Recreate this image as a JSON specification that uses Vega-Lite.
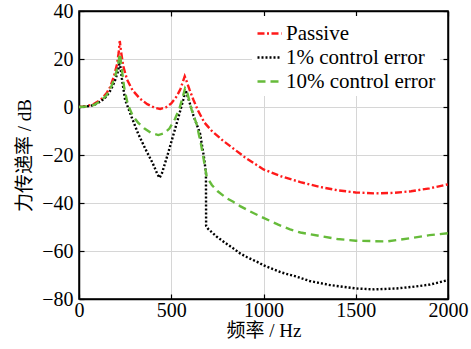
{
  "$schema": "https://vega.github.io/schema/vega-lite/v6.json",
  "autosize": {"type": "none"},
  "padding": {"left": 79, "top": 11, "right": 23, "bottom": 50},
  "width": 369,
  "height": 288,
  "background": "white",
  "config": {
    "view": {"stroke": "black", "strokeWidth": 1.5},
    "axis": {
      "domainColor": "black",
      "domainWidth": 1.5,
      "tickColor": "black",
      "tickSize": -5,
      "tickWidth": 1.2,
      "labelFont": "Liberation Serif",
      "labelFontSize": 20,
      "labelColor": "black",
      "gridColor": "#d6d6d6",
      "gridWidth": 1,
      "titleFont": "Liberation Serif, Noto Sans CJK SC",
      "titleFontSize": 19,
      "titleFontWeight": "normal",
      "titleColor": "black"
    },
    "legend": {
      "labelFont": "Liberation Serif",
      "labelFontSize": 21,
      "labelColor": "black",
      "labelLimit": 220
    }
  },
  "data": {
    "values": [
      {"f": 0, "db": 0, "s": "Passive"},
      {"f": 40, "db": 0.3, "s": "Passive"},
      {"f": 80, "db": 1.2, "s": "Passive"},
      {"f": 120, "db": 3.2, "s": "Passive"},
      {"f": 150, "db": 5.8, "s": "Passive"},
      {"f": 170, "db": 8.5, "s": "Passive"},
      {"f": 190, "db": 13, "s": "Passive"},
      {"f": 205, "db": 17.5, "s": "Passive"},
      {"f": 215, "db": 22.5, "s": "Passive"},
      {"f": 221, "db": 27.5, "s": "Passive"},
      {"f": 228, "db": 23, "s": "Passive"},
      {"f": 240, "db": 17, "s": "Passive"},
      {"f": 260, "db": 11.5, "s": "Passive"},
      {"f": 290, "db": 7, "s": "Passive"},
      {"f": 330, "db": 3.5, "s": "Passive"},
      {"f": 370, "db": 1.2, "s": "Passive"},
      {"f": 410, "db": -0.3, "s": "Passive"},
      {"f": 440, "db": -0.8, "s": "Passive"},
      {"f": 470, "db": -0.2, "s": "Passive"},
      {"f": 500, "db": 1.5, "s": "Passive"},
      {"f": 530, "db": 4.5, "s": "Passive"},
      {"f": 550, "db": 7.5, "s": "Passive"},
      {"f": 565, "db": 11, "s": "Passive"},
      {"f": 573, "db": 12.8, "s": "Passive"},
      {"f": 582, "db": 11, "s": "Passive"},
      {"f": 600, "db": 7, "s": "Passive"},
      {"f": 620, "db": 3, "s": "Passive"},
      {"f": 645, "db": -1.5, "s": "Passive"},
      {"f": 680, "db": -6.5, "s": "Passive"},
      {"f": 720, "db": -10, "s": "Passive"},
      {"f": 780, "db": -14, "s": "Passive"},
      {"f": 840, "db": -17.5, "s": "Passive"},
      {"f": 900, "db": -21, "s": "Passive"},
      {"f": 1000, "db": -26, "s": "Passive"},
      {"f": 1100, "db": -29, "s": "Passive"},
      {"f": 1200, "db": -31.3, "s": "Passive"},
      {"f": 1300, "db": -33.2, "s": "Passive"},
      {"f": 1400, "db": -34.7, "s": "Passive"},
      {"f": 1500, "db": -35.6, "s": "Passive"},
      {"f": 1600, "db": -36, "s": "Passive"},
      {"f": 1700, "db": -35.8, "s": "Passive"},
      {"f": 1800, "db": -35.1, "s": "Passive"},
      {"f": 1900, "db": -33.9, "s": "Passive"},
      {"f": 2000, "db": -32.2, "s": "Passive"},

      {"f": 0, "db": 0, "s": "1% control error"},
      {"f": 40, "db": 0.2, "s": "1% control error"},
      {"f": 80, "db": 0.8, "s": "1% control error"},
      {"f": 120, "db": 2.4, "s": "1% control error"},
      {"f": 150, "db": 4.5, "s": "1% control error"},
      {"f": 175, "db": 7.5, "s": "1% control error"},
      {"f": 195, "db": 11, "s": "1% control error"},
      {"f": 210, "db": 14.5, "s": "1% control error"},
      {"f": 221, "db": 18.8, "s": "1% control error"},
      {"f": 232, "db": 12, "s": "1% control error"},
      {"f": 250, "db": 3, "s": "1% control error"},
      {"f": 284, "db": -4, "s": "1% control error"},
      {"f": 320, "db": -11, "s": "1% control error"},
      {"f": 360, "db": -17.5, "s": "1% control error"},
      {"f": 400, "db": -23.5, "s": "1% control error"},
      {"f": 425, "db": -28, "s": "1% control error"},
      {"f": 437, "db": -29.5, "s": "1% control error"},
      {"f": 450, "db": -27.5, "s": "1% control error"},
      {"f": 480, "db": -20, "s": "1% control error"},
      {"f": 510, "db": -12, "s": "1% control error"},
      {"f": 540, "db": -4, "s": "1% control error"},
      {"f": 565, "db": 3, "s": "1% control error"},
      {"f": 578, "db": 7, "s": "1% control error"},
      {"f": 595, "db": 3, "s": "1% control error"},
      {"f": 620, "db": -3.5, "s": "1% control error"},
      {"f": 656, "db": -11, "s": "1% control error"},
      {"f": 677, "db": -20.7, "s": "1% control error"},
      {"f": 688, "db": -27.5, "s": "1% control error"},
      {"f": 689, "db": -49.5, "s": "1% control error"},
      {"f": 700, "db": -50.8, "s": "1% control error"},
      {"f": 746, "db": -54, "s": "1% control error"},
      {"f": 790, "db": -56.5, "s": "1% control error"},
      {"f": 836, "db": -58.9, "s": "1% control error"},
      {"f": 873, "db": -61, "s": "1% control error"},
      {"f": 909, "db": -62.5, "s": "1% control error"},
      {"f": 981, "db": -65.1, "s": "1% control error"},
      {"f": 1000, "db": -66, "s": "1% control error"},
      {"f": 1100, "db": -69, "s": "1% control error"},
      {"f": 1180, "db": -70.7, "s": "1% control error"},
      {"f": 1250, "db": -72.5, "s": "1% control error"},
      {"f": 1361, "db": -74.2, "s": "1% control error"},
      {"f": 1500, "db": -75.6, "s": "1% control error"},
      {"f": 1600, "db": -76, "s": "1% control error"},
      {"f": 1721, "db": -75.6, "s": "1% control error"},
      {"f": 1800, "db": -75, "s": "1% control error"},
      {"f": 1902, "db": -74, "s": "1% control error"},
      {"f": 2000, "db": -72.1, "s": "1% control error"},

      {"f": 0, "db": 0, "s": "10% control error"},
      {"f": 40, "db": 0.2, "s": "10% control error"},
      {"f": 80, "db": 0.8, "s": "10% control error"},
      {"f": 120, "db": 2.6, "s": "10% control error"},
      {"f": 150, "db": 5, "s": "10% control error"},
      {"f": 175, "db": 8.5, "s": "10% control error"},
      {"f": 195, "db": 12.5, "s": "10% control error"},
      {"f": 210, "db": 17, "s": "10% control error"},
      {"f": 222, "db": 22.3, "s": "10% control error"},
      {"f": 230, "db": 17, "s": "10% control error"},
      {"f": 245, "db": 8, "s": "10% control error"},
      {"f": 265, "db": 1, "s": "10% control error"},
      {"f": 290, "db": -3.5, "s": "10% control error"},
      {"f": 320, "db": -6.5, "s": "10% control error"},
      {"f": 355, "db": -9, "s": "10% control error"},
      {"f": 390, "db": -10.8, "s": "10% control error"},
      {"f": 430, "db": -11.7, "s": "10% control error"},
      {"f": 460, "db": -11, "s": "10% control error"},
      {"f": 490, "db": -9, "s": "10% control error"},
      {"f": 520, "db": -5, "s": "10% control error"},
      {"f": 545, "db": -0.5, "s": "10% control error"},
      {"f": 562, "db": 4, "s": "10% control error"},
      {"f": 575, "db": 7.8, "s": "10% control error"},
      {"f": 585, "db": 6.5, "s": "10% control error"},
      {"f": 610, "db": -1, "s": "10% control error"},
      {"f": 637, "db": -7, "s": "10% control error"},
      {"f": 660, "db": -15, "s": "10% control error"},
      {"f": 674, "db": -21, "s": "10% control error"},
      {"f": 692, "db": -29, "s": "10% control error"},
      {"f": 720, "db": -32.5, "s": "10% control error"},
      {"f": 750, "db": -35, "s": "10% control error"},
      {"f": 800, "db": -38, "s": "10% control error"},
      {"f": 836, "db": -39.5, "s": "10% control error"},
      {"f": 873, "db": -41.3, "s": "10% control error"},
      {"f": 927, "db": -43.5, "s": "10% control error"},
      {"f": 1000, "db": -46.2, "s": "10% control error"},
      {"f": 1080, "db": -49, "s": "10% control error"},
      {"f": 1144, "db": -51, "s": "10% control error"},
      {"f": 1200, "db": -52.3, "s": "10% control error"},
      {"f": 1324, "db": -54, "s": "10% control error"},
      {"f": 1400, "db": -55, "s": "10% control error"},
      {"f": 1500, "db": -55.7, "s": "10% control error"},
      {"f": 1600, "db": -55.9, "s": "10% control error"},
      {"f": 1670, "db": -56, "s": "10% control error"},
      {"f": 1794, "db": -54.7, "s": "10% control error"},
      {"f": 1900, "db": -53.4, "s": "10% control error"},
      {"f": 2000, "db": -52.6, "s": "10% control error"}
    ]
  },
  "layer": [
    {
      "mark": {"type": "line", "strokeWidth": 2.4, "strokeCap": "butt"},
      "encoding": {
        "x": {
          "field": "f", "type": "quantitative",
          "scale": {"domain": [0, 2000], "nice": false},
          "axis": {"orient": "bottom", "values": [0, 500, 1000, 1500, 2000], "format": "d", "title": "频率 / Hz", "labelPadding": 6, "titlePadding": 1, "labelFlush": false}
        },
        "y": {
          "field": "db", "type": "quantitative",
          "scale": {"domain": [-80, 40], "nice": false},
          "axis": {"orient": "left", "values": [-80, -60, -40, -20, 0, 20, 40], "title": "力传递率 / dB", "labelPadding": 11, "titlePadding": 7}
        },
        "color": {
          "field": "s", "type": "nominal",
          "scale": {"domain": ["Passive", "1% control error", "10% control error"], "range": ["#ff1a1a", "#000000", "#66bb3a"]},
          "legend": {
            "title": null, "orient": "none", "legendX": 173, "legendY": 5,
            "fillColor": "white", "padding": 4, "symbolType": "stroke",
            "symbolSize": 576, "symbolStrokeWidth": 2.4, "labelOffset": 3, "rowPadding": 0
          }
        },
        "strokeDash": {
          "field": "s", "type": "nominal",
          "scale": {"domain": ["Passive", "1% control error", "10% control error"], "range": [[7, 2.5, 2, 2.5], [2, 2], [8, 5]]},
          "legend": {
            "title": null, "orient": "none", "legendX": 173, "legendY": 5,
            "fillColor": "white", "padding": 4, "symbolType": "stroke",
            "symbolSize": 576, "symbolStrokeWidth": 2.4, "labelOffset": 3, "rowPadding": 0
          }
        }
      }
    },
    {
      "mark": {"type": "line", "opacity": 0},
      "encoding": {
        "x": {
          "field": "f", "type": "quantitative",
          "scale": {"domain": [0, 2000], "nice": false},
          "axis": {"orient": "top", "values": [0, 500, 1000, 1500, 2000], "labels": false, "grid": false, "title": null}
        },
        "y": {
          "field": "db", "type": "quantitative",
          "scale": {"domain": [-80, 40], "nice": false},
          "axis": {"orient": "right", "values": [-80, -60, -40, -20, 0, 20, 40], "labels": false, "grid": false, "title": null}
        },
        "detail": {"field": "s", "type": "nominal"}
      }
    }
  ],
  "resolve": {"axis": {"x": "independent", "y": "independent"}}
}
